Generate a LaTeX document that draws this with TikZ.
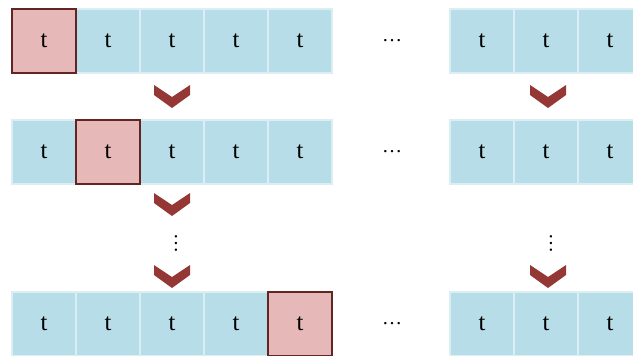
\documentclass[tikz,border=0pt]{standalone}
\usepackage{fontspec}
\setmainfont{Liberation Serif}
\definecolor{cellblue}{HTML}{B7DDE8}
\definecolor{cellline}{HTML}{DAEEF3}
\definecolor{cellred}{HTML}{E6B9B8}
\definecolor{redline}{HTML}{632523}
\definecolor{chev}{HTML}{953735}
\tikzset{
  cell/.style={draw=cellline, line width=2pt, fill=cellblue, minimum width=64pt, minimum height=64pt,
    inner sep=0pt, outer sep=0pt, font=\fontsize{24.5}{26}\selectfont, text=black},
  hotcell/.style={cell, fill=cellred, draw=redline, line width=2.2pt},
  dotstext/.style={inner sep=0pt, font=\fontsize{20}{22}\selectfont},
}
\newcommand{\chevronat}[1]{%
  \fill[chev] ([shift={(-18pt,0pt)}]#1) -- ([shift={(0pt,-12pt)}]#1) -- ([shift={(18pt,0pt)}]#1)
    -- ([shift={(18pt,-10pt)}]#1) -- ([shift={(0pt,-23pt)}]#1) -- ([shift={(-18pt,-10pt)}]#1) -- cycle;}
\begin{document}
\begin{tikzpicture}[x=1pt,y=1pt]
\useasboundingbox (0,0) rectangle (633,-356);
% rows: centres y
\foreach \r/\yc/\hot in {1/-41/1, 2/-152/2, 3/-324/5}{
  \foreach \c in {1,...,5}{
    \ifnum\c=\hot\relax\else
      \node[cell] (r\r c\c) at ({12+32+64*(\c-1)},\yc) {t};
    \fi
  }
  \foreach \c in {1,2,3}{
    \node[cell] (r\r d\c) at ({450+32+64*(\c-1)},\yc) {t};
  }
  \node[dotstext] (r\r dots) at (392,\yc) {…};
}
\node[hotcell] (r1c1) at (44,-41) {t};
\node[hotcell] (r2c2) at (108,-152) {t};
\node[hotcell] (r3c5) at (300,-324) {t};
% chevrons
\coordinate (ch1) at (172,-85);
\coordinate (ch2) at (172,-193);
\coordinate (ch3) at (172,-265);
\coordinate (chr1) at (548,-85);
\coordinate (chr3) at (548,-265);
\chevronat{ch1}
\chevronat{ch2}
\chevronat{ch3}
\chevronat{chr1}
\chevronat{chr3}
\node[dotstext, rotate=-90] (vd1) at (176,-243) {…};
\node[dotstext, rotate=-90] (vd2) at (551,-243) {…};
\end{tikzpicture}
\end{document}
